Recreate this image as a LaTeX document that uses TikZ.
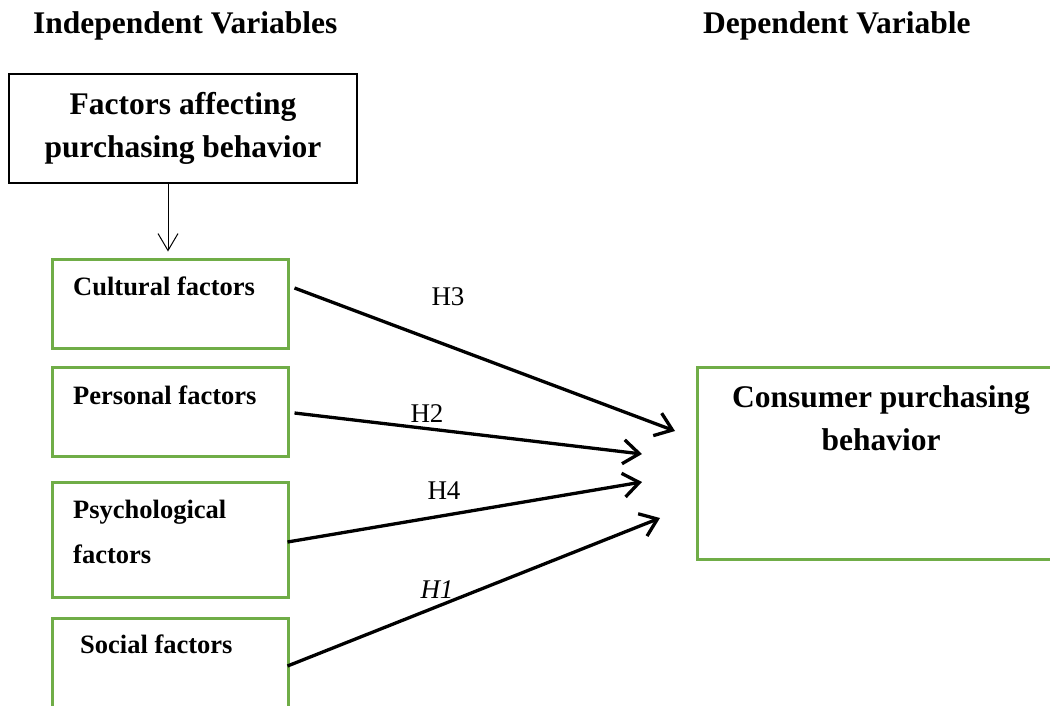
\documentclass[tikz,border=0pt]{standalone}
\usepackage{fontspec}
\setmainfont{Liberation Serif}
\usetikzlibrary{calc,arrows.meta}
\definecolor{boxgreen}{RGB}{112,173,71}

\begin{document}
\begin{tikzpicture}[x=1pt,y=-1pt,
  every node/.style={inner sep=0pt},
  big/.style={font=\fontsize{31.5}{43}\selectfont\bfseries},
  small/.style={font=\fontsize{26.5}{45}\selectfont\bfseries},
  hlab/.style={font=\fontsize{27}{32}\selectfont},
  gbox/.style={draw=boxgreen,line width=3pt},
  hyp/.style={line width=3.3pt,-{Straight Barb[length=16pt,width=24pt]}}]
\useasboundingbox (0,0) rectangle (1050,705);
\clip (0,0) rectangle (1050,705);
% headings
\node[big,anchor=base west] (indep) at (33,33) {Independent Variables};
\node[big,anchor=base west] (dep) at (703,33) {Dependent Variable};
% boxes
\node[draw,line width=2.8pt,minimum width=348,minimum height=109,big,align=center]
  (factors) at (183,128.5) {Factors affecting\\purchasing behavior};
\node[gbox,minimum width=236,minimum height=89] (cult) at (170,303.5) {};
\node[gbox,minimum width=236,minimum height=89] (pers) at (170,411.5) {};
\node[gbox,minimum width=236,minimum height=115] (psych) at (170,539.5) {};
\node[gbox,minimum width=236,minimum height=110] (soc) at (170,673) {};
\node[gbox,minimum width=368,minimum height=192] (cons) at (881,463) {};
\node[small,anchor=base west] (cultT) at (73,295) {Cultural factors};
\node[small,anchor=base west] (persT) at (73,404) {Personal factors};
\node[small,anchor=base west,align=left] (psychT) at (73,563) {Psychological\\factors};
\node[small,anchor=base west] (socT) at (80,653) {Social factors};
\node[big,anchor=base,align=center] (consT) at (881,450) {Consumer purchasing\\behavior};
% arrow ends
\coordinate (tipA) at (675,431);
\coordinate (tipB) at (642,454);
\coordinate (tipC) at (642,482);
\coordinate (tipD) at (660,518);
\draw[line width=1pt,-{Straight Barb[length=17pt,width=20pt]}]
  ($(factors.south)+(-15,0)$) -- ($(cult.north)+(-2,-6)$);
\draw[hyp] ($(cult.east)+(5,-15.5)$) -- (tipA);
\draw[hyp] ($(pers.east)+(5,1.5)$) -- (tipB);
\draw[hyp] ($(psych.east)+(-2,2.5)$) -- (tipC);
\draw[hyp] ($(soc.east)+(-2,-7)$) -- (tipD);
% hypotheses
\node[hlab,anchor=base] (hthree) at (448,305) {H3};
\node[hlab,anchor=base] (htwo) at (427,422) {H2};
\node[hlab,anchor=base] (hfour) at (444,499) {H4};
\node[hlab,anchor=base] (hone) at (437,598) {\itshape H1};
\end{tikzpicture}
\end{document}
